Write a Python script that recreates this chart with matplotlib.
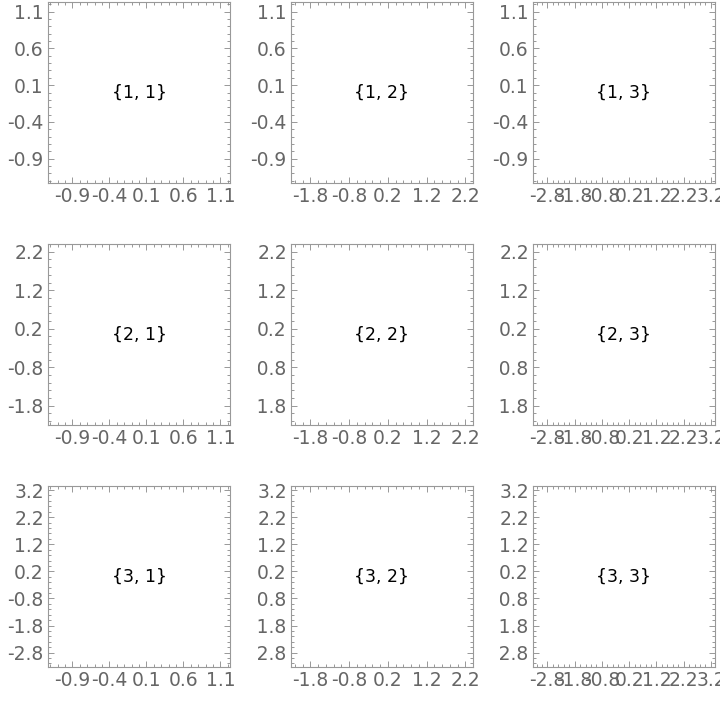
import matplotlib
matplotlib.use("Agg")
import matplotlib.pyplot as plt
from matplotlib.ticker import FixedLocator, AutoMinorLocator
from matplotlib.transforms import Bbox, TransformedBbox

# axis ranges and ticks per column (x) and per row (y)
col_ranges = [(-1.23, 1.23), (-2.3, 2.4), (-3.33, 3.35)]
col_ticks = [
    [-0.9, -0.4, 0.1, 0.6, 1.1],
    [-1.8, -0.8, 0.2, 1.2, 2.2],
    [-2.8, -1.8, -0.8, 0.2, 1.2, 2.2, 3.2],
]
row_ranges = [(-1.23, 1.23), (-2.3, 2.4), (-3.33, 3.35)]
row_ticks = col_ticks
panel_labels = [["{%d, %d}" % (r + 1, c + 1) for c in range(3)] for r in range(3)]

W, H = 720, 704
frame_lefts = [48, 291, 533]
frame_tops = [2, 244, 486]
frame_w, frame_h = 182, 181

fig = plt.figure(figsize=(W / 100, H / 100), dpi=100)
grey = "#666666"

for r in range(3):
    for c in range(3):
        ax = fig.add_axes([frame_lefts[c] / W, 1 - (frame_tops[r] + frame_h) / H,
                           frame_w / W, frame_h / H])
        ax.set_xlim(*col_ranges[c])
        ax.set_ylim(*row_ranges[r])
        ax.xaxis.set_major_locator(FixedLocator(col_ticks[c]))
        ax.yaxis.set_major_locator(FixedLocator(row_ticks[r]))
        ax.xaxis.set_minor_locator(AutoMinorLocator(5))
        ax.yaxis.set_minor_locator(AutoMinorLocator(5))
        ax.xaxis.set_major_formatter(plt.FuncFormatter(lambda v, p: "%g" % v))
        ax.yaxis.set_major_formatter(plt.FuncFormatter(lambda v, p: "%g" % v))
        ax.tick_params(which="both", direction="in", top=True, right=True,
                       color="#888888", labelcolor=grey, labelsize=13.5, width=0.6)
        ax.tick_params(which="major", length=4, pad=3)
        ax.tick_params(which="minor", length=2)
        for s in ax.spines.values():
            s.set_color("#999999")
            s.set_linewidth(0.8)
        ax.text(0.5, 0.5, panel_labels[r][c], transform=ax.transAxes,
                ha="center", va="center", fontsize=12.5, color="black")
        if r > 0:
            cut = frame_lefts[c] - (48 if c == 0 else 33)
            box = TransformedBbox(Bbox([[cut / W, 0], [1, 1]]), fig.transFigure)
            for lab in ax.get_yticklabels():
                lab.set_clip_on(True)
                lab.set_clip_box(box)

fig.savefig("out.png", dpi=100)
